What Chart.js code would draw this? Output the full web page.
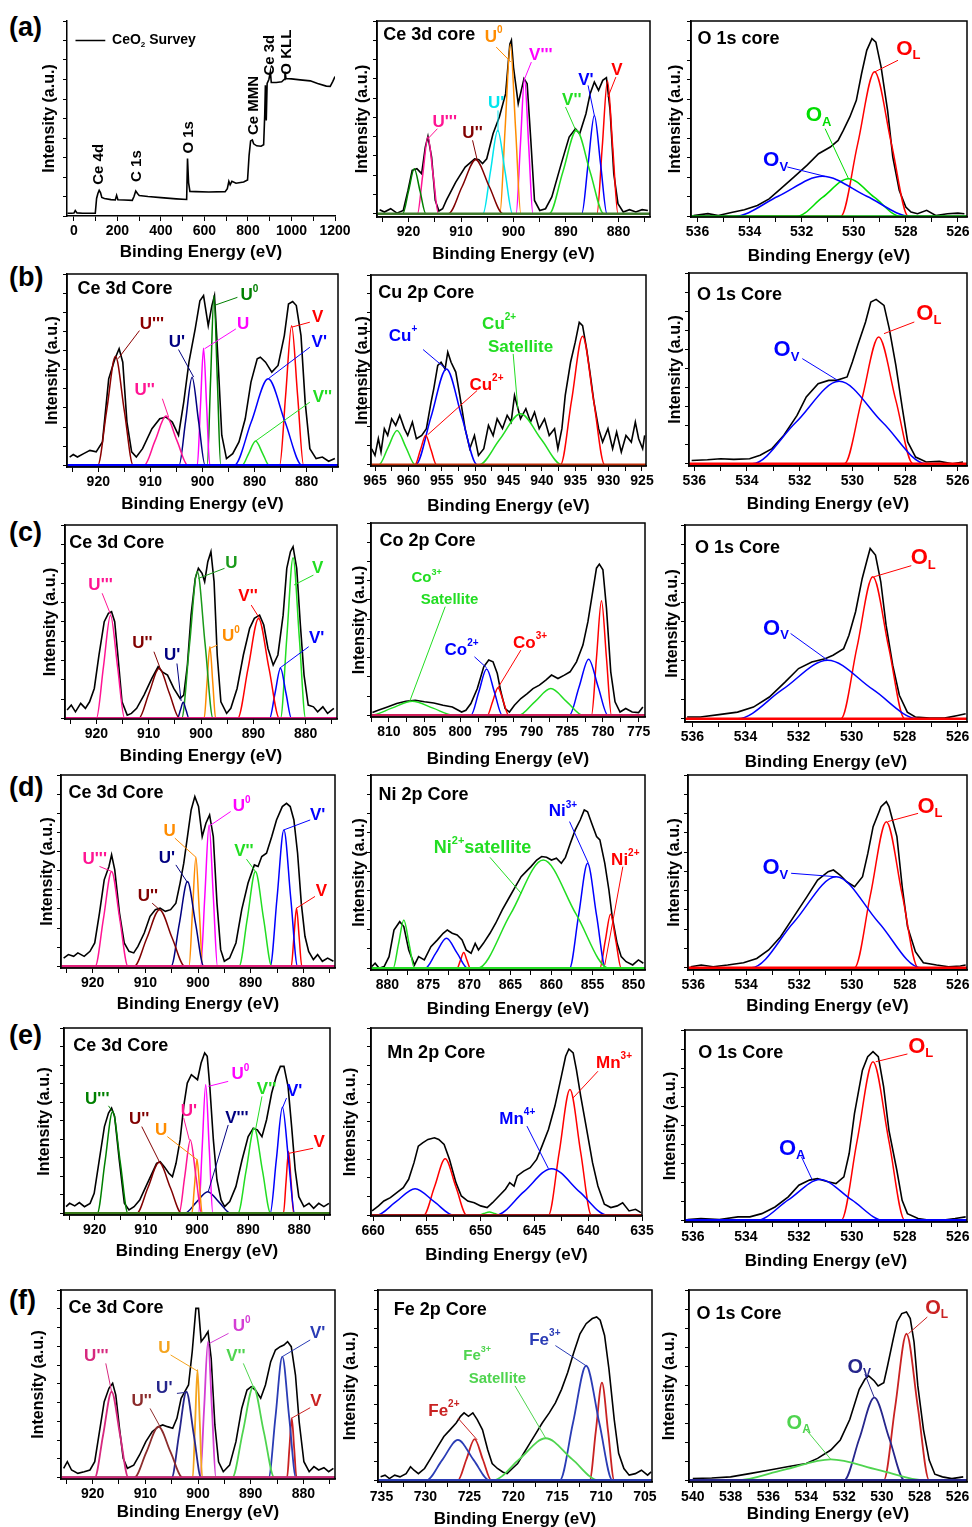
<!DOCTYPE html>
<html>
<head>
<meta charset="utf-8">
<title>XPS spectra of CeO2 and M-doped CeO2</title>
<script src="https://cdn.jsdelivr.net/npm/chart.js@4.4.1/dist/chart.umd.min.js"></script>
<style>
  html, body { margin: 0; padding: 0; background: #fff; }
  #fig { position: relative; width: 972px; height: 1527px; overflow: hidden; background: #fff; }
  #fig canvas { position: absolute; }
  .tag { position: absolute; left: 9px; font: bold 27px 'Liberation Sans', Arial, sans-serif; color: #000; line-height: 30px; }
</style>
</head>
<body>
<div id="fig">
  <div class="tag" style="top:12px">(a)</div>
  <div class="tag" style="top:262px">(b)</div>
  <div class="tag" style="top:517px">(c)</div>
  <div class="tag" style="top:772px">(d)</div>
  <div class="tag" style="top:1020px">(e)</div>
  <div class="tag" style="top:1285px">(f)</div>
</div>
<script>
// ---- data: [binding energy (eV), intensity (% of panel height)] ----

// (a) CeO2
const survey = [[-30,1.4],[-12,1.4],[0,1.5],[6,2.8],[14,1.6],[40,1.4],[98,1.4],[104,9],[110,11.5],[116,13.2],[122,12],[128,9.5],[140,9],[170,8.4],[190,8.2],[196,10.6],[202,8.3],[230,8.2],[268,8],[276,10],[284,12.8],[292,11.5],[300,10.5],[340,10],[400,9.4],[470,8.8],[518,8.5],[522,29.5],[527,17],[533,12.6],[560,12.5],[620,12.3],[695,12.5],[705,14],[712,17.8],[718,16],[726,17.8],[745,16.8],[780,17.4],[798,18.5],[805,31],[812,38.5],[820,39],[826,37],[840,36],[860,35.8],[872,36.5],[877,52],[880,67],[884,49],[888,68],[896,70],[903,74],[907,68.5],[930,68.5],[955,68.8],[966,70],[970,74],[975,70.5],[1000,70.3],[1040,69.8],[1086,69.3],[1120,68],[1160,66.6],[1178,66.5],[1190,69],[1200,71.5]];

const a2Total = [[925.5,2.1],[924.6,0.9],[923.4,2.6],[922.2,0.3],[921,1.7],[920.1,12.1],[919.3,22.5],[918.4,23.4],[917.5,20.8],[916.8,34.6],[916.3,40.1],[915.6,29.4],[914.9,6.9],[914.2,1.4],[913.5,2.6],[912.8,6.9],[911,16.4],[909.2,24.2],[907.4,28.5],[906.6,28],[905.9,26],[905.1,28.5],[903.9,41.5],[902.7,50.2],[901.5,62.3],[900.7,88],[900.4,90],[900,76],[899.1,57.1],[898,70.1],[897.4,67.5],[896.7,38],[896,6.9],[895,1.7],[893.9,2.6],[892.7,8.7],[890.9,26],[889.4,39.8],[888.2,44.1],[887.4,41.5],[886.2,51.9],[885.4,62.3],[884.6,68.3],[883.8,64],[883,69.2],[882.3,70.6],[881.6,53.6],[880.9,20.8],[880.1,5.2],[879.1,0.9],[877.9,2.1],[876.7,0.9],[875.5,2.1],[874.4,1.7]];
const a2Ua = [[873,0],[916.7,0],[917.8,11.7],[918.9,23.4],[920,11.7],[921.1,0],[927,0]];
const a2U3 = [[873,0],[914.3,0],[915.3,19.9],[916.3,39.8],[917.3,19.9],[918.3,0],[927,0]];
const a2U2 = [[873,0],[902,0],[904.6,14],[907.2,28],[909.8,14],[912.4,0],[927,0]];
const a2U1 = [[873,0],[900.2,0],[901.6,21.7],[903,43.3],[904.4,21.7],[905.8,0],[927,0]];
const a2U0 = [[873,0],[898.6,0],[899.6,44],[900.6,88],[901.6,44],[902.6,0],[927,0]];
const a2V3 = [[873,0],[896.3,0],[897.1,35],[897.9,70],[898.7,35],[899.5,0],[927,0]];
const a2V2 = [[873,0],[882.8,0],[885.4,21.7],[888,43.3],[890.6,21.7],[893.2,0],[927,0]];
const a2V1 = [[873,0],[882.2,0],[883.4,25.5],[884.6,51],[885.8,25.5],[887,0],[927,0]];
const a2V = [[873,0],[880.1,0],[881.1,34.5],[882.1,69],[883.1,34.5],[884.1,0],[927,0]];

const a3Total = [[536.15,0.5],[535.6,1.4],[535.2,0.5],[534.7,2],[534.2,3.4],[533.7,5.6],[533.25,9],[532.8,14.2],[532.3,20.1],[531.8,26.1],[531.35,32.1],[530.9,35.5],[530.6,38.9],[530.4,44],[530.15,50.9],[529.9,59.4],[529.7,73],[529.5,85],[529.3,91],[529.15,89.2],[528.95,76.5],[528.7,54.3],[528.5,30.4],[528.25,13.3],[528,4.8],[527.8,2.2],[527.55,1.4],[527.2,3.1],[526.85,0.5],[526.4,1.4],[526,1.7],[525.75,1.4]];
const a3OL = [[524,0],[527.9,0],[528.55,37],[529.2,74],[529.85,37],[530.5,0],[541,0]];
const a3OA = [[524,0],[528.2,0],[529.2,9.7],[530.2,19.3],[531.2,9.7],[532.2,0],[541,0]];
const a3OV = [[524,0],[527.8,0],[529.5,10.3],[531.2,20.5],[532.9,10.3],[534.6,0],[541,0]];

// (b) Cu doped
const b1Total = [[925.5,4.3],[924.8,5.6],[924,4.3],[922.8,6.1],[921.6,7.8],[920.4,7],[919.2,12.2],[918,45.2],[916.8,55.7],[916,60.9],[915.3,53.9],[914.5,22.6],[913.6,7],[912.7,4.3],[911.5,8.7],[909.7,19.1],[908.2,24.3],[907,25.2],[905.8,22.6],[904.6,15.7],[903.6,33],[902.6,53.9],[901.4,71.3],[900.5,86],[899.8,88.7],[898.9,73],[898.2,83.5],[897.7,88.7],[897,53.9],[896.3,15.7],[895.4,3.5],[894.2,6.1],[893,12.2],[891.8,24.3],[890.7,43.5],[889.5,55.7],[888.9,56.5],[887.9,53.9],[886.7,48.7],[885.5,52.2],[884.3,67.8],[883.5,84.3],[882.7,85.6],[882,83.5],[881.1,67.8],[880.3,33],[879.4,8.7],[878.2,3.5],[877,4.3],[875.8,2.1],[874.6,3.5]];
const b1U3 = [[873,0],[913.3,0],[915,28.5],[916.7,57],[918.4,28.5],[920.1,0],[927,0]];
const b1U2 = [[873,0],[902.8,0],[904.9,12.9],[907,25.7],[909.1,12.9],[911.2,0],[927,0]];
const b1U1 = [[873,0],[899.5,0],[900.75,23],[902,46],[903.25,23],[904.5,0],[927,0]];
const b1U = [[873,0],[898.6,0],[899.2,30.6],[899.8,61.2],[900.4,30.6],[901,0],[927,0]];
const b1U0 = [[873,0],[896.5,0],[897.15,44.4],[897.8,88.7],[898.45,44.4],[899.1,0],[927,0]];
const b1V2 = [[873,0],[887.2,0],[888.5,6.4],[889.8,12.7],[891.1,6.4],[892.4,0],[927,0]];
const b1V1 = [[873,0],[880.9,0],[884.15,22.6],[887.4,45.2],[890.65,22.6],[893.9,0],[927,0]];
const b1V = [[873,0],[880.6,0],[881.75,36.5],[882.9,73],[884.05,36.5],[885.2,0],[927,0]];

const b2Total = [[965.5,8.4],[965,4.9],[964.5,13.7],[964.1,6.7],[963.6,19],[963.1,15.4],[962.5,24.2],[961.9,20.7],[961.3,26],[960.6,19],[960.1,15.4],[959.4,22.5],[958.8,13.7],[958,15.4],[957.3,19],[956.6,33],[956.2,40],[955.6,52.3],[955.1,54],[954.5,50.5],[954.1,59.3],[953.6,54],[952.9,48.8],[952.3,36.5],[951.5,19],[950.8,8.4],[950.1,15.4],[949.5,4.9],[948.7,8.4],[948,20.7],[947.3,15.4],[946.7,24.2],[945.9,19],[945.2,26],[944.6,22.5],[944.1,36.5],[943.7,31.2],[943.2,24.2],[942.4,29.5],[941.7,22.5],[941.1,27.7],[940.4,19],[939.6,24.2],[938.9,15.4],[938.1,19],[937.6,8.4],[937,19],[936.5,36.5],[935.7,54],[935,64.6],[934.4,75],[933.9,73.3],[933.3,61],[932.8,48.8],[932.2,33],[931.5,19],[930.9,11.9],[930.1,19],[929.4,8.4],[928.8,17.2],[928.1,6.7],[927.4,15.4],[926.6,11.9],[926,22.5],[925.5,13.7],[924.9,8.4],[924.6,15.4]];
const b2G1 = [[923,0],[959,0],[960.35,9],[961.7,18],[963.05,9],[964.4,0],[967,0]];
const b2R1 = [[923,0],[955.8,0],[956.6,7.7],[957.4,15.4],[958.2,7.7],[959,0],[967,0]];
const b2B = [[923,0],[949.7,0],[952,25.3],[954.3,50.5],[956.6,25.3],[958.9,0],[967,0]];
const b2G2 = [[923,0],[937,0],[940.1,13.4],[943.2,26.8],[946.3,13.4],[949.4,0],[967,0]];
const b2R2 = [[923,0],[930.6,0],[932.25,33.9],[933.9,67.7],[935.55,33.9],[937.2,0],[967,0]];

const b3Total = [[536.1,1.7],[535.5,2.1],[535,2.6],[534.5,2.3],[533.9,2.6],[533.5,4.4],[533.05,7.9],[532.6,14.9],[532.1,25.3],[531.75,35],[531.3,42],[530.9,43.7],[530.6,43.7],[530.2,45.5],[530,53.3],[529.8,62],[529.5,74.3],[529.3,84.8],[529.1,86.2],[528.8,83],[528.6,70.8],[528.35,51.6],[528.1,28.8],[527.9,11.4],[527.6,3.5],[527.2,0.9],[526.7,1.2],[526.2,0],[525.8,0.9]];
const b3OV = [[524,0],[527.2,0],[528.85,21.6],[530.5,43.2],[532.15,21.6],[533.8,0],[541,0]];
const b3OL = [[524,0],[527.7,0],[528.35,33.2],[529,66.4],[529.65,33.2],[530.3,0],[541,0]];

// (c) Co doped
const c1Total = [[925.6,4.3],[924.8,6.9],[924,3.4],[923,7.8],[922.1,5.2],[921.3,8.6],[920.4,15.5],[919.5,32.8],[918.5,50],[917.7,54.3],[917.1,55.2],[916.5,50],[915.9,32.8],[915.1,8.6],[914.1,1.7],[913.3,2.6],[912.3,5.2],[910.9,12.1],[909.4,20.7],[908.2,26.7],[907.4,24.1],[906.4,22.4],[905.2,15.5],[904,10.3],[903.3,12.1],[902.6,27.6],[901.9,53.4],[901.1,72.4],[900.5,77.6],[899.8,75],[899.3,70.7],[898.7,81],[898.1,86.2],[897.5,70.7],[896.9,32.8],[896.2,8.6],[895.1,2.6],[894.3,5.2],[893.1,15.5],[891.9,32.8],[890.7,46.6],[889.8,51.7],[888.8,53.4],[888,48.3],[887.2,36.2],[886.2,27.6],[885.3,32.8],[884.3,53.4],[883.6,77.6],[882.9,86.2],[882.4,88.8],[881.7,77.6],[881,48.3],[880.3,22.4],[879.5,6.9],[878.5,6],[877.7,3.4],[876.7,6],[875.8,2.6],[874.6,5.2]];
const c1U3 = [[873,0],[914.6,0],[915.95,26.7],[917.3,53.4],[918.65,26.7],[920,0],[927,0]];
const c1U2 = [[873,0],[904.1,0],[906.05,13],[908,25.9],[909.95,13],[911.9,0],[927,0]];
const c1U1 = [[873,0],[902.3,0],[902.85,4.2],[903.4,8.3],[903.95,4.2],[904.5,0],[927,0]];
const c1U = [[873,0],[897.7,0],[899.2,38],[900.7,75.9],[902.2,38],[903.7,0],[927,0]];
const c1U0 = [[873,0],[897.2,0],[897.75,18.5],[898.3,37],[898.85,18.5],[899.4,0],[927,0]];
const c1V2 = [[873,0],[885,0],[887,25.9],[889,51.7],[891,25.9],[893,0],[927,0]];
const c1V1 = [[873,0],[882.7,0],[883.75,13],[884.8,25.9],[885.85,13],[886.9,0],[927,0]];
const c1V = [[873,0],[880,0],[881.2,41.6],[882.4,83.1],[883.6,41.6],[884.8,0],[927,0]];

const c2Total = [[812.3,1.4],[811.5,2.6],[810.2,4.3],[808.9,6.1],[807.6,7.3],[806.3,7.8],[805,7],[803.7,6.4],[802.4,5.2],[801.1,4.3],[799.8,1.7],[799.2,2.6],[798.5,6.1],[797.6,13.9],[796.7,25.2],[796,28.7],[795.4,27.8],[794.8,21.7],[794.3,12.2],[793.7,3.5],[793.1,1.7],[792.4,5.2],[791.5,8.7],[790.6,11.3],[789.8,13.9],[788.9,15.7],[788,18.3],[787.2,20.9],[786.3,19.1],[785.4,20.9],[784.6,22.6],[783.7,27.8],[782.8,36.5],[782.1,48.7],[781.5,62.6],[780.9,76.5],[780.5,78.6],[780,75.7],[779.5,55.7],[778.9,22.6],[778.3,7],[777.6,1.7],[776.8,3.5],[775.9,1.7],[775,1.4],[774.4,4.3]];
const c2G1 = [[772,0],[800.9,0],[803.8,3.7],[806.7,7.3],[809.6,3.7],[812.5,0],[814,0]];
const c2B1 = [[772,0],[794.1,0],[795.2,12],[796.3,24],[797.4,12],[798.5,0],[814,0]];
const c2R1 = [[772,0],[793.2,0],[793.95,7.2],[794.7,14.3],[795.45,7.2],[796.2,0],[814,0]];
const c2G2 = [[772,0],[782.8,0],[785.05,7],[787.3,13.9],[789.55,7],[791.8,0],[814,0]];
const c2B2 = [[772,0],[779.3,0],[780.65,14.6],[782,29.2],[783.35,14.6],[784.7,0],[814,0]];
const c2R2 = [[772,0],[778.8,0],[779.5,29.8],[780.2,59.5],[780.9,29.8],[781.6,0],[814,0]];

const c3Total = [[536.2,0.9],[535.7,0.9],[535,2.1],[534.3,3.4],[533.7,6],[533.1,11.2],[532.5,19],[532,25.9],[531.5,29.3],[531,31],[530.7,32.8],[530.3,36.2],[530.1,43.1],[529.85,55.2],[529.6,72.4],[529.4,82.8],[529.3,87.9],[529.1,84.5],[528.9,70.7],[528.7,48.3],[528.45,27.6],[528.2,12.1],[527.9,3.4],[527.6,0.9],[527.05,0.3],[526.5,0.3],[526,1.7],[525.7,2.6]];
const c3OV = [[524,0],[527.5,0],[529.2,15.1],[530.9,30.2],[532.6,15.1],[534.3,0],[541,0]];
const c3OL = [[524,0],[528,0],[528.6,36.7],[529.2,73.3],[529.8,36.7],[530.4,0],[541,0]];

// (d) Ni doped
const d1Total = [[925.5,4.3],[924.6,6.1],[923.6,5.2],[922.8,7],[921.6,5.2],[920.5,7.8],[919.6,12.2],[918.7,27.8],[917.8,45.2],[916.9,52.2],[916.4,58.3],[915.8,50.4],[914.9,27.8],[914,12.2],[913.1,7.8],[912.2,7],[911.4,10.4],[910.2,17.4],[909.1,26.1],[908.1,29.6],[907.2,30.4],[906.2,28.7],[905.2,29.6],[904.2,33],[903.4,43.5],[902.7,53.9],[902,67.8],[901.3,81.7],[900.6,88.7],[899.9,83.5],[899.2,67.8],[898.5,74.8],[897.8,79.1],[897.1,67.8],[896.4,33],[895.7,8.7],[895,2.6],[894,4.3],[892.8,12.2],[891.7,29.6],[890.5,43.5],[889.3,53],[888.6,52.2],[887.9,57.4],[887,59.1],[886,67.8],[885.1,76.5],[884,83.5],[883.2,85.2],[882.5,83.5],[881.8,76.5],[881.1,59.1],[880.4,33],[879.7,15.7],[879,7.8],[878.1,3.5],[877.3,6.1],[876.4,2.6],[875.4,4.3],[874.3,2.6]];
const d1U3 = [[873,0],[913.3,0],[914.85,24.8],[916.4,49.6],[917.95,24.8],[919.5,0],[927,0]];
const d1U2 = [[873,0],[902.5,0],[904.9,14.8],[907.3,29.6],[909.7,14.8],[912.1,0],[927,0]];
const d1U1 = [[873,0],[898.9,0],[900.45,22.2],[902,44.3],[903.55,22.2],[905.1,0],[927,0]];
const d1U = [[873,0],[899.1,0],[899.75,28.5],[900.4,57],[901.05,28.5],[901.7,0],[927,0]];
const d1U0 = [[873,0],[896.3,0],[897.1,37],[897.9,73.9],[898.7,37],[899.5,0],[927,0]];
const d1V2 = [[873,0],[886,0],[887.55,24.8],[889.1,49.6],[890.65,24.8],[892.2,0],[927,0]];
const d1V1 = [[873,0],[881.1,0],[882.4,35.7],[883.7,71.3],[885,35.7],[886.3,0],[927,0]];
const d1V = [[873,0],[880.3,0],[880.8,15.2],[881.3,30.4],[881.8,15.2],[882.3,0],[927,0]];

const d2Total = [[881.9,0.9],[881.5,2.6],[881,0],[880.4,0.9],[879.8,6],[879.2,19.8],[878.5,24.1],[878,21.6],[877.4,9.5],[876.7,1.7],[876.2,6],[875.5,4.3],[874.7,11.2],[873.9,14.7],[873.2,18.1],[872.7,19.8],[872.1,18.1],[871.5,17.2],[870.9,14.7],[870.4,9.5],[869.8,7.8],[869.3,12.9],[868.9,9.5],[868.3,12.9],[867.5,18.1],[866.8,23.3],[866,30.2],[865.1,37],[864.4,42.2],[863.7,47.4],[863.1,50],[862.5,52.6],[861.8,56],[861.2,57.8],[860.6,57.4],[860,56],[859.4,56.9],[858.8,54.3],[858.3,57.4],[857.7,64.7],[857.1,71.6],[856.5,76.7],[856,81.9],[855.6,81],[855.1,75],[854.5,68.1],[854.1,66.4],[853.5,54.3],[853,40.5],[852.6,26.7],[852,12.9],[851.5,6],[850.9,3.4],[850.1,1.7],[849.4,4.3],[848.8,2.6]];
const d2G1 = [[847,0],[876.7,0],[877.35,12.5],[878,25],[878.65,12.5],[879.3,0],[883,0]];
const d2B1 = [[847,0],[870.2,0],[871.5,7.8],[872.8,15.5],[874.1,7.8],[875.4,0],[883,0]];
const d2R1 = [[847,0],[869.9,0],[870.3,4.1],[870.7,8.1],[871.1,4.1],[871.5,0],[883,0]];
const d2G2 = [[847,0],[853,0],[857,28],[861,56],[865,28],[869,0],[883,0]];
const d2B2 = [[847,0],[853.4,0],[854.5,27.2],[855.6,54.3],[856.7,27.2],[857.8,0],[883,0]];
const d2R2 = [[847,0],[851.5,0],[852.15,14],[852.8,28],[853.45,14],[854.1,0],[883,0]];

const d3Total = [[536.1,0.5],[535.7,1.4],[535.25,0.5],[534.7,1.4],[534.1,2.6],[533.6,4.8],[533.15,9.2],[532.7,16.1],[532.2,26.5],[531.7,36.9],[531.3,45.5],[530.9,49.8],[530.7,50.7],[530.45,48.1],[530.2,44.6],[529.9,42],[529.6,47.2],[529.4,59.3],[529.2,73.2],[528.9,83.6],[528.7,86.2],[528.6,83.6],[528.3,68],[528.1,42],[527.9,21.3],[527.6,8.3],[527.3,2.6],[526.8,1.4],[526.35,0.5],[525.9,0.9],[525.7,1.4]];
const d3OV = [[524,0],[527.4,0],[529,23.6],[530.6,47.2],[532.2,23.6],[533.8,0],[541,0]];
const d3OL = [[524,0],[527.5,0],[528.1,37.9],[528.7,75.8],[529.3,37.9],[529.9,0],[541,0]];

// (e) Mn doped
const e1Total = [[925.6,3.6],[924.9,5.4],[923.9,4],[923,5.8],[922,3.6],[920.9,5.4],[920.1,10.8],[919.1,28.8],[918.1,46.8],[917.3,54.1],[916.7,56.8],[916.1,52.3],[915.2,28.8],[914.2,5.4],[913.3,1.8],[912.3,3.6],[911.2,7.2],[910,14.4],[908.8,21.6],[907.9,27],[907.2,27.9],[906.4,25.2],[905.5,21.6],[904.8,19.8],[904.1,27],[903.3,39.6],[902.6,57.7],[901.9,70.3],[901.1,74.8],[900.7,73.9],[899.9,72.1],[899.2,81.1],[898.5,86.5],[898,84.7],[897.5,68.5],[896.8,39.6],[896.1,18],[895.3,7.2],[894.6,3.6],[893.6,6.3],[892.4,14.4],[891.2,28.8],[890,41.4],[889,45.9],[888.2,45],[887.3,41.4],[886.4,50.5],[885.4,64.9],[884.5,73.9],[883.7,79.3],[883,79.3],[882.2,68.5],[881.5,46.8],[880.8,23.4],[880.1,9],[879.1,3.6],[878.1,5.4],[877.2,2.7],[876.2,5.4],[875.2,3.6],[874.2,5.4]];
const e1U3 = [[873,0],[913.5,0],[915,27.5],[916.5,55],[918,27.5],[919.5,0],[927,0]];
const e1U2 = [[873,0],[903,0],[905.2,13.8],[907.4,27.5],[909.6,13.8],[911.8,0],[927,0]];
const e1U1 = [[873,0],[899.1,0],[900.2,19.8],[901.3,39.6],[902.4,19.8],[903.5,0],[927,0]];
const e1U = [[873,0],[899,0],[899.5,14.5],[900,29],[900.5,14.5],[901,0],[927,0]];
const e1U0 = [[873,0],[896.9,0],[897.6,34.7],[898.3,69.4],[899,34.7],[899.7,0],[927,0]];
const e1V3 = [[873,0],[893.4,0],[895.65,5.9],[897.9,11.7],[900.15,5.9],[902.4,0],[927,0]];
const e1V2 = [[873,0],[885.6,0],[887.2,23],[888.8,45.9],[890.4,23],[892,0],[927,0]];
const e1V1 = [[873,0],[880.9,0],[882.1,28.7],[883.3,57.3],[884.5,28.7],[885.7,0],[927,0]];
const e1V = [[873,0],[881.1,0],[881.6,16.7],[882.1,33.3],[882.6,16.7],[883.1,0],[927,0]];

const e2Total = [[660.1,2.3],[659.5,5],[659,7.6],[658.4,9.4],[657.8,12.1],[657.2,14.7],[656.7,19.2],[656.2,28.1],[655.8,36.9],[655.4,38.7],[654.9,40.5],[654.3,41.4],[653.9,40.5],[653.4,37.8],[652.9,29.8],[652.3,17.4],[651.8,10.3],[651.2,7.6],[650.6,6.7],[650,5],[649.4,4.1],[648.9,6.7],[648.3,10.3],[647.7,13.9],[647.3,17.4],[646.9,15.6],[646.6,21],[646,23.6],[645.4,25.4],[644.8,29.8],[644.3,36.9],[643.7,45.8],[643.1,58.3],[642.5,74.2],[642.1,84.9],[641.8,88.8],[641.4,86.7],[641.1,77.8],[640.7,63.6],[640.2,47.6],[639.6,28.1],[639.1,15.6],[638.5,5.9],[637.9,4.1],[637.3,5],[636.8,6.7],[636.2,2.3],[635.6,3.2],[635.1,1.4]];
const e2B1 = [[634,0],[652.5,0],[654.3,7.1],[656.1,14.2],[657.9,7.1],[659.7,0],[661,0]];
const e2R1 = [[634,0],[651.3,0],[652.3,15.1],[653.3,30.2],[654.3,15.1],[655.3,0],[661,0]];
const e2G = [[634,0],[648.2,0],[648.7,0.9],[649.2,1.8],[649.7,0.9],[650.2,0],[661,0]];
const e2B2 = [[634,0],[638.2,0],[640.8,12.5],[643.4,24.9],[646,12.5],[648.6,0],[661,0]];
const e2R2 = [[634,0],[639.7,0],[640.7,33.6],[641.7,67.1],[642.7,33.6],[643.7,0],[661,0]];

const e3Total = [[536.2,0.4],[535.7,0.9],[535,0.4],[534.3,1.8],[533.85,1.8],[533.4,3.5],[532.9,7],[532.4,12.3],[532,18.4],[531.6,21.1],[531.3,21.9],[530.9,20.2],[530.6,19.3],[530.3,22.8],[530.1,35.1],[529.9,56.1],[529.6,78.9],[529.4,86],[529.2,88.6],[529,86],[528.8,70.2],[528.6,47.4],[528.3,26.3],[528.1,10.5],[527.9,3.5],[527.5,0.9],[527.05,0],[526.6,0],[526.1,0.9],[525.7,1.8]];
const e3OA = [[524,0],[528.8,0],[530,10.7],[531.2,21.4],[532.4,10.7],[533.6,0],[541,0]];
const e3OL = [[524,0],[528,0],[528.6,41.7],[529.2,83.3],[529.8,41.7],[530.4,0],[541,0]];

// (f) Fe doped
const f1Total = [[925.5,5],[924.8,8.5],[924,4.1],[922.8,2.3],[921.6,3.2],[920.5,4.1],[919.6,8.5],[918.7,24.5],[917.8,40.5],[916.9,47.6],[916.2,50.3],[915.6,44],[914.9,26.3],[914.2,10.3],[913.4,5],[912.2,6.7],[911.1,12.1],[909.9,19.2],[908.7,24.5],[907.5,27.2],[906.7,28.1],[905.8,27.2],[904.8,26.3],[904,31.6],[903.2,42.3],[902.5,45.8],[901.8,49.4],[901.1,67.1],[900.4,90.2],[899.9,90.2],[899.4,72.5],[898.7,75.1],[898.1,77.8],[897.5,63.6],[896.8,28.1],[896.1,8.5],[895.2,3.2],[894,6.7],[892.8,19.2],[891.7,36.9],[890.7,46.7],[889.9,48.5],[889.1,46.7],[888.1,42.3],[887.2,49.4],[886.2,61.8],[885.3,68],[884.4,69.8],[883.7,70.7],[883,72.5],[882.3,69.8],[881.5,54.7],[880.8,29.8],[879.9,8.5],[878.9,3.2],[878,5.9],[877.1,4.1],[876.1,5.3],[875.2,3.2],[874.3,5]];
const f1U3 = [[873,0],[913.2,0],[914.8,22.9],[916.4,45.8],[918,22.9],[919.6,0],[927,0]];
const f1U2 = [[873,0],[902.9,0],[905.2,13.6],[907.5,27.2],[909.8,13.6],[912.1,0],[927,0]];
const f1U1 = [[873,0],[899.4,0],[900.8,22.9],[902.2,45.8],[903.6,22.9],[905,0],[927,0]];
const f1U = [[873,0],[899.2,0],[899.65,28.7],[900.1,57.4],[900.55,28.7],[901,0],[927,0]];
const f1U0 = [[873,0],[896.6,0],[897.35,36.3],[898.1,72.5],[898.85,36.3],[899.6,0],[927,0]];
const f1V2 = [[873,0],[885.5,0],[887.5,24.3],[889.5,48.5],[891.5,24.3],[893.5,0],[927,0]];
const f1V1 = [[873,0],[881.4,0],[882.7,32.3],[884,64.5],[885.3,32.3],[886.6,0],[927,0]];
const f1V = [[873,0],[881.3,0],[881.75,15.8],[882.2,31.6],[882.65,15.8],[883.1,0],[927,0]];

const f2Total = [[735.1,1.8],[734.6,2.7],[734.1,0.9],[733.5,2.7],[732.9,1.8],[732.2,3.5],[731.7,7.1],[731.3,5.3],[730.8,3.5],[730.1,6.2],[729.4,11.5],[728.6,17.7],[727.9,23],[727.2,26.5],[726.5,30.1],[726,33.6],[725.6,35.4],[725.1,33.6],[724.6,35.4],[724.1,31.9],[723.5,26.5],[722.9,15.9],[722.4,8.8],[721.8,6.2],[721.2,4.4],[720.7,3.5],[720.1,6.2],[719.5,8.8],[718.8,14.2],[718.1,19.5],[717.4,24.8],[716.7,30.1],[715.9,35.4],[715.2,40.7],[714.5,47.8],[713.8,56.6],[713.1,67.3],[712.4,77],[711.7,82.3],[711,85],[710.5,85.8],[710.1,84.1],[709.6,76.1],[709.1,58.4],[708.5,31.9],[708,14.2],[707.4,6.2],[706.8,2.7],[706.1,3.5],[705.4,5.3],[704.7,2.7],[704.3,4.4]];
const f2B1 = [[703,0],[722.7,0],[724.5,10.6],[726.3,21.2],[728.1,10.6],[729.9,0],[737,0]];
const f2R1 = [[703,0],[722.5,0],[723.45,10.8],[724.4,21.6],[725.35,10.8],[726.3,0],[737,0]];
const f2G = [[703,0],[710.3,0],[713.3,11.1],[716.3,22.1],[719.3,11.1],[722.3,0],[737,0]];
const f2B2 = [[703,0],[708.7,0],[710.2,30.1],[711.7,60.2],[713.2,30.1],[714.7,0],[737,0]];
const f2R2 = [[703,0],[708.5,0],[709.2,25.7],[709.9,51.3],[710.6,25.7],[711.3,0],[737,0]];

const f3Total = [[540,0.9],[539,1.2],[538,1.8],[537,3.5],[536,5.3],[535,7.1],[534,8.8],[533.4,11.5],[532.7,15.9],[532.2,21.2],[531.7,31.9],[531.2,47.8],[530.9,53.1],[530.7,54.9],[530.4,52.2],[530.2,49.6],[529.9,51.3],[529.7,60.2],[529.4,74.3],[529.2,83.2],[528.95,87.6],[528.7,88.5],[528.5,85],[528.3,72.6],[528.1,49.6],[527.8,26.5],[527.5,10.6],[527.2,3.2],[526.8,1.8],[526.3,0.9],[525.7,1.8]];
const f3OA = [[524,0],[527.7,0],[530.2,5.5],[532.7,11],[535.2,5.5],[537.7,0],[541,0]];
const f3OV = [[524,0],[528.8,0],[529.6,21.7],[530.4,43.4],[531.2,21.7],[532,0],[541,0]];
const f3OL = [[524,0],[527.5,0],[528.1,38.5],[528.7,77],[529.3,38.5],[529.9,0],[541,0]];

// zero lines of the fitted components
const ceZero = [[870,0],[930,0]];
const oZero = [[524,0],[542,0]];
const cuZero = [[920,0],[970,0]];
const coZero = [[770,0],[815,0]];
const niZero = [[845,0],[885,0]];
const mnZero = [[630,0],[665,0]];
const feZero = [[700,0],[740,0]];

// ---- styling ----
const FONT = "'Liberation Sans', Arial, Helvetica, sans-serif";
const PINK = '#ff1493', MAROON = '#800000', NAVY = '#000080', ORANGE = '#ff8c00',
      MAGENTA = '#ff00ff', LIME = '#22dd22', DKGREEN = '#008000', BLUE = '#0000ff',
      RED = '#ff0000', CYAN = '#00e5ee';
const fPink = '#d6287e', fMaroon = '#8b2c2c', fNavy = '#26268c', fOrange = '#f4a41e',
      fMag = '#d43ed4', fGreen = '#4fd44f', fBlue = '#2a3cb5', fRed = '#c92222';

Chart.defaults.font.family = FONT;
Chart.defaults.color = '#000';

const CE = [873.999, 926.001], CE_STEP = [5, 10];
const O_STEP = [1, 2], M_STEP = [2.5, 5];

const panels = [
  { box: [67, 21, 335, 216], x: [-32, 1200], rev: false, y: 0, step: [100, 200], yOff: 17, xOff: 37, open: true,
    total: survey, parts: [], survey: true },
  { box: [377, 21, 650, 217], x: CE, y: -1.7, step: CE_STEP, yOff: 14.5, xOff: 38, total: a2Total,
    zero: [ceZero, '#3d7a2a'], size: 17, title: ['Ce 3d core', 924.8, 92.6],
    parts: [[a2Ua, DKGREEN], [a2U3, PINK], [a2U2, MAROON], [a2U1, CYAN], [a2U0, ORANGE], [a2V3, MAGENTA], [a2V2, LIME], [a2V1, BLUE], [a2V, RED]],
    labels: [['U^{0}', ORANGE, 903.8, 91.7, 903.3, 86.5, 900.5, 78.7], ["V'''", MAGENTA, 894.8, 82.2, 896.6, 78.7, 898.0, 69.2],
             ["U'", CYAN, 903.3, 57.1, 902.95, 53.6, 902.95, 42.4], ["U'''", PINK, 913.1, 47.6, 914.5, 44.1, 916.3, 38.9],
             ["U''", MAROON, 907.8, 41.5, 907.8, 38.1, 906.9, 27.7], ["V''", LIME, 888.9, 58.8, 890.1, 55.4, 888.0, 42.4],
             ["V'", BLUE, 886.2, 69.2, 885.8, 66.6, 884.6, 51], ['V', RED, 880.3, 74.4, 880.5, 70.9, 882.0, 60.6]] },
  { box: [691, 21, 967, 217], x: [525.65, 536.25], y: -0.3, step: O_STEP, yOff: 15, xOff: 40, total: a3Total,
    zero: [oZero, '#00aa00'], size: 21, title: ['O 1s core', 536.0, 91],
    parts: [[a3OV, BLUE], [a3OA, '#00dd00'], [a3OL, RED]],
    labels: [['O_{L}', RED, 527.9, 85.8, 528.3, 79.9, 529.2, 73.9], ['O_{A}', '#00dd00', 531.35, 51.7, 531.1, 44.9, 530.2, 19.3],
             ['O_{V}', BLUE, 533.0, 28.7, 532.55, 25.3, 531.1, 20.5]] },

  { box: [67, 274, 338, 467], x: CE, y: -0.9, step: CE_STEP, yOff: 14.3, xOff: 38, total: b1Total,
    zero: [ceZero, BLUE], size: 17, title: ['Ce 3d Core', 924.0, 92.2],
    parts: [[b1U3, '#8b0000'], [b1U2, PINK], [b1U1, NAVY], [b1U, MAGENTA], [b1U0, DKGREEN], [b1V2, LIME], [b1V1, BLUE], [b1V, RED]],
    labels: [["U'''", '#8b0000', 909.7, 73.9, 912.1, 70.4, 916.2, 55.7], ['U^{0}', DKGREEN, 891.0, 88.7, 893.3, 87.8, 897.8, 83.5],
             ['U', MAGENTA, 892.2, 73.9, 893.6, 71.3, 899.6, 60.9], ["U'", NAVY, 904.9, 64.3, 904.6, 60.5, 901.7, 46.1],
             ["U''", PINK, 911.1, 39.1, 907.7, 34.8, 906.5, 25.2], ['V', RED, 877.9, 77.4, 879.4, 74.8, 882.9, 72.2],
             ["V'", BLUE, 877.6, 64.3, 879.4, 61.7, 887.4, 45.2], ["V''", LIME, 877.0, 35.7, 879.4, 33, 889.8, 12.7]] },
  { box: [371, 275, 646, 466], x: [924.4, 965.6], y: -0.7, step: M_STEP, yOff: 8.3, xOff: 41, total: b2Total,
    zero: [cuZero, '#c0300a'], size: 17, title: ['Cu 2p Core', 964.5, 90.5],
    parts: [[b2G1, LIME], [b2R1, RED], [b2B, BLUE], [b2G2, LIME], [b2R2, RED]],
    labels: [['Cu^{+}', BLUE, 960.8, 67.7, 957.8, 60.7, 954.5, 50.9], ['Cu^{2+}', RED, 948.3, 41.8, 949.7, 39.1, 957.1, 15.8],
             ['Cu^{2+}', LIME, 946.4, 74.2], ['Satellite', LIME, 943.2, 61.9, 944.3, 58.4, 943.6, 29.5]] },
  { box: [689, 273, 967, 466], x: [525.65, 536.2], y: -1.2, step: O_STEP, yOff: 13, xOff: 39, total: b3Total,
    zero: [oZero, RED], size: 22, title: ['O 1s Core', 535.9, 88.3],
    parts: [[b3OV, BLUE], [b3OL, RED]],
    labels: [['O_{L}', RED, 527.1, 78.7, 527.65, 74.3, 528.8, 68.2], ['O_{V}', BLUE, 532.5, 59.4, 531.9, 55.1, 530.5, 43.2]] },

  { box: [65, 525, 337, 719], x: CE, y: -0.3, step: CE_STEP, yOff: 14, xOff: 38, total: c1Total,
    zero: [ceZero, PINK], size: 17, title: ['Ce 3d Core', 925.2, 90.5],
    parts: [[c1U3, PINK], [c1U2, MAROON], [c1U1, NAVY], [c1U, '#1a9a1a'], [c1U0, ORANGE], [c1V2, RED], [c1V1, BLUE], [c1V, LIME]],
    labels: [["U'''", PINK, 919.2, 69, 918.9, 64.7, 917.3, 53.8], ["U''", MAROON, 911.2, 38.8, 909, 34.5, 907.8, 25.9],
             ["U'", NAVY, 905.5, 32.8, 904.6, 28.4, 903.8, 9], ['U^{0}', ORANGE, 894.3, 42.2, 896.9, 37.9, 898.3, 36.2],
             ['U', '#1a9a1a', 894.2, 80.2, 895.5, 77.6, 900.5, 72.4], ["V''", RED, 891.0, 62.9, 890.4, 58.6, 888.8, 51.7],
             ['V', LIME, 877.7, 77.6, 878.5, 74.1, 882.2, 69], ["V'", BLUE, 877.9, 41.4, 879.4, 37.1, 885.0, 25.9]] },
  { box: [371, 523, 645, 717], x: [774.1, 812.5], y: -0.9, step: M_STEP, yOff: 11.4, xOff: 43, total: c2Total,
    zero: [coZero, '#d0205a'], size: 17, title: ['Co 2p Core', 811.3, 90.4],
    parts: [[c2G1, LIME], [c2B1, BLUE], [c2R1, RED], [c2G2, LIME], [c2B2, BLUE], [c2R2, RED]],
    labels: [['Co^{3+}', LIME, 804.7, 71.3, null, 0, 0, 0, 15], ['Satellite', LIME, 801.5, 60, 802.1, 56.5, 807.1, 7, 15],
             ['Co^{2+}', BLUE, 799.8, 33.9, 798.0, 30.4, 796.3, 24.7], ['Co^{3+}', RED, 790.2, 37.4, 791.5, 33.9, 794.7, 14.3]] },
  { box: [685, 525, 967, 722], x: [525.65, 536.28], y: -1.7, step: O_STEP, yOff: 12.3, xOff: 41, total: c3Total,
    zero: [oZero, RED], size: 22, title: ['O 1s Core', 535.9, 87.9],
    parts: [[c3OV, BLUE], [c3OL, RED]],
    labels: [['O_{L}', RED, 527.3, 82.8, 527.75, 79, 529.15, 73.3], ['O_{V}', BLUE, 532.85, 46.6, 532.3, 44, 530.9, 30.2]] },

  { box: [61, 775, 335, 968], x: CE, y: -0.9, step: CE_STEP, yOff: 13, xOff: 37, total: d1Total,
    zero: [ceZero, '#e0207a'], size: 17, title: ['Ce 3d Core', 924.6, 90.4],
    parts: [[d1U3, PINK], [d1U2, MAROON], [d1U1, NAVY], [d1U, ORANGE], [d1U0, MAGENTA], [d1V2, LIME], [d1V1, BLUE], [d1V, RED]],
    labels: [["U'''", PINK, 919.6, 55.7, 918.7, 52.2, 916.4, 49.6], ["U''", MAROON, 909.5, 36.5, 908.7, 33, 907.3, 29.6],
             ["U'", NAVY, 905.9, 56.5, 904.2, 53, 902, 43.8], ['U', ORANGE, 905.4, 70.4, 904.4, 67, 900.4, 57],
             ['U^{0}', MAGENTA, 891.7, 83.5, 893.8, 80.9, 897.8, 73.4], ["V''", LIME, 891.3, 60, 890.8, 56, 889.1, 49.6],
             ["V'", BLUE, 877.3, 79.1, 878.7, 76.5, 883.7, 71.3], ['V', RED, 876.6, 39.1, 877.8, 36.5, 881.3, 30.4]] },
  { box: [371, 775, 645, 970], x: [848.6, 882], y: -0.9, step: M_STEP, yOff: 11.4, xOff: 40, total: d2Total,
    zero: [niZero, LIME], size: 17, title: ['Ni 2p Core', 881.1, 89.7],
    parts: [[d2G1, LIME], [d2B1, BLUE], [d2R1, RED], [d2G2, LIME], [d2B2, BLUE], [d2R2, RED]],
    labels: [['Ni^{3+}', BLUE, 858.6, 81, 857.8, 75.9, 855.5, 54.3], ['Ni^{2+}satellite', LIME, 868.4, 62.1, 867.5, 57.4, 863.7, 38.8, 18],
             ['Ni^{2+}', RED, 851.0, 56, 851.3, 52.6, 853.5, 1.7]] },
  { box: [688, 775, 967, 970], x: [525.65, 536.2], y: -1.2, step: O_STEP, yOff: 13.5, xOff: 37, total: d3Total,
    zero: [oZero, RED], size: 22,
    parts: [[d3OV, BLUE], [d3OL, RED]],
    labels: [['O_{L}', RED, 527.05, 83.6, 527.5, 80.1, 528.65, 75.8], ['O_{V}', BLUE, 532.9, 51.6, 532.3, 49, 530.6, 47.2]] },

  { box: [64, 1028, 330, 1215], x: CE, y: -0.9, step: CE_STEP, yOff: 19, xOff: 37, total: e1Total,
    zero: [ceZero, '#3a7a1a'], size: 17, title: ['Ce 3d Core', 924.2, 90.1],
    parts: [[e1U3, DKGREEN], [e1U2, MAROON], [e1U1, PINK], [e1U, ORANGE], [e1U0, MAGENTA], [e1V3, NAVY], [e1V2, LIME], [e1V1, BLUE], [e1V, RED]],
    labels: [["U'''", DKGREEN, 919.5, 61.3, 917.3, 58, 916.3, 54.1], ["U''", MAROON, 911.3, 50.5, 910.8, 46.8, 907.2, 27],
             ["U'", PINK, 901.6, 55, 902.6, 51.4, 901.5, 39.6], ['U', ORANGE, 907, 45, 905.8, 41.4, 899.9, 28.8],
             ['U^{0}', MAGENTA, 891.5, 74.8, 893.9, 71.2, 897.8, 68.5], ["V'''", NAVY, 892.2, 51.4, 893.9, 47.7, 897.8, 11.7],
             ["V''", LIME, 886.4, 66.7, 887.3, 63.1, 888.5, 45.9], ["V'", BLUE, 880.9, 65.8, 882.5, 62.2, 883.3, 56.8],
             ['V', RED, 876.1, 38.2, 877.3, 35.1, 882, 32.4]] },
  { box: [371, 1028, 642, 1216], x: [635, 660.2], y: -0.4, step: M_STEP, yOff: 20.7, xOff: 40, total: e2Total,
    zero: [mnZero, '#a01818'], size: 17, title: ['Mn 2p Core', 658.7, 86.7],
    parts: [[e2B1, BLUE], [e2R1, RED], [e2G, LIME], [e2B2, BLUE], [e2R2, RED]],
    labels: [['Mn^{3+}', RED, 637.6, 81.3, 639.1, 76.9, 641.4, 62.7], ['Mn^{4+}', BLUE, 646.6, 51.2, 645.7, 47.6, 643.7, 24.9]] },
  { box: [685, 1030, 967, 1222], x: [525.65, 536.3], y: -0.9, step: O_STEP, yOff: 14, xOff: 40, total: e3Total,
    zero: [oZero, BLUE], size: 22, title: ['O 1s Core', 535.8, 87.7],
    parts: [[e3OA, BLUE], [e3OL, RED]],
    labels: [['O_{L}', RED, 527.4, 91.2, 527.9, 87.4, 529.1, 83.3], ['O_{A}', BLUE, 532.25, 37.7, 531.9, 33.3, 531.5, 21.4]] },

  { box: [61, 1290, 335, 1479], x: CE, y: -0.7, step: CE_STEP, yOff: 22.6, xOff: 34, total: f1Total, lw: 1.8,
    zero: [ceZero, fPink], size: 17, title: ['Ce 3d Core', 924.6, 90.2],
    parts: [[f1U3, fPink], [f1U2, fMaroon], [f1U1, fNavy], [f1U, fOrange], [f1U0, fMag], [f1V2, fGreen], [f1V1, fBlue], [f1V, fRed]],
    labels: [["U'''", fPink, 919.3, 64.5, 917.5, 60.9, 916.4, 45.8], ["U''", fMaroon, 910.7, 40.5, 909.1, 36.9, 907.2, 27.2],
             ["U'", fNavy, 906.4, 47.6, 904, 44.9, 902.2, 45.5], ['U', fOrange, 906.4, 68.9, 905.2, 65.4, 900.1, 56.8],
             ['U^{0}', fMag, 891.7, 80.5, 894.2, 76.9, 897.8, 71.6], ["V''", fGreen, 892.8, 64.5, 891.4, 60.9, 889.5, 48.5],
             ["V'", fBlue, 877.3, 76.9, 878.7, 73.4, 884, 64.5], ['V', fRed, 877.6, 40.5, 878.7, 37.3, 882.3, 31.6]] },
  { box: [378, 1290, 652, 1482], x: [704.2, 735.4], y: -0.9, step: M_STEP, yOff: 27.7, xOff: 38, total: f2Total, lw: 1.8,
    zero: [feZero, fBlue], size: 17, title: ['Fe 2p Core', 733.6, 89.4],
    parts: [[f2B1, fBlue], [f2R1, fRed], [f2G, fGreen], [f2B2, fBlue], [f2R2, fRed]],
    labels: [['Fe^{3+}', fBlue, 716.4, 73.5, 715.2, 70.8, 711.7, 60.2], ['Fe^{3+}', fGreen, 724.1, 65.5, null, 0, 0, 0, 15],
             ['Satellite', fGreen, 721.8, 53.1, 719.8, 49.6, 716.3, 22.1, 15], ['Fe^{2+}', fRed, 727.9, 36.3, 726.3, 32.7, 724.1, 21.2]] },
  { box: [689, 1290, 967, 1482], x: [525.5, 540.2], y: -0.9, step: O_STEP, yOff: 19.4, xOff: 33, total: f3Total, lw: 1.8,
    zero: [oZero, fNavy], size: 20, title: ['O 1s Core', 539.8, 87.6],
    parts: [[f3OA, fGreen], [f3OV, fNavy], [f3OL, fRed]],
    labels: [['O_{L}', fRed, 527.1, 90.3, 527.6, 85.8, 528.6, 77], ['O_{V}', fNavy, 531.2, 59.3, 530.9, 55.8, 530.4, 43.4],
             ['O_{A}', fGreen, 534.4, 30.1, 534, 26.5, 532.7, 11]] }
];

// survey peak names (rotated) and legend
const surveyNames = [['Ce 4d', 114, 16], ['C 1s', 288, 17.5], ['O 1s', 529, 32], ['Ce MMN', 826, 41.5], ['Ce 3d', 900, 72], ['O KLL', 977, 72.5]];

// text with ^{sup} and _{sub}
function drawRich(ctx, str, x0, y0, size, color, align) {
  const re = /\^\{([^}]*)\}|_\{([^}]*)\}|([^\^_]+)/g;
  const parts = [];
  let m;
  while ((m = re.exec(str))) {
    if (m[1] !== undefined) parts.push({ t: m[1], k: 'sup' });
    else if (m[2] !== undefined) parts.push({ t: m[2], k: 'sub' });
    else parts.push({ t: m[3], k: 'n' });
  }
  const fs = k => (k === 'n' ? size : Math.round(size * 0.6));
  let total = 0;
  parts.forEach(p => {
    ctx.font = 'bold ' + fs(p.k) + 'px ' + FONT;
    p.w = ctx.measureText(p.t).width;
    total += p.w;
  });
  let x = align === 'left' ? x0 : x0 - total / 2;
  ctx.fillStyle = color;
  ctx.textAlign = 'left';
  ctx.textBaseline = 'middle';
  parts.forEach(p => {
    ctx.font = 'bold ' + fs(p.k) + 'px ' + FONT;
    const dy = p.k === 'sup' ? -size * 0.4 : p.k === 'sub' ? size * 0.32 : 0;
    ctx.fillText(p.t, x, y0 + dy);
    x += p.w;
  });
}

function annot(p) {
  return {
    id: 'annot',
    afterDatasetsDraw(chart) {
      const ctx = chart.ctx, a = chart.chartArea;
      const px = v => chart.scales.x.getPixelForValue(v);
      const py = v => chart.scales.y.getPixelForValue(v);
      ctx.save();
      if (!p.open) {
        ctx.strokeStyle = '#000';
        ctx.lineWidth = 1.5;
        ctx.strokeRect(a.left, a.top, a.right - a.left, a.bottom - a.top);
      }
      if (p.title) drawRich(ctx, p.title[0], px(p.title[1]), py(p.title[2]), 18, '#000', 'left');
      (p.labels || []).forEach(l => {
        const [t, c, x, y, x1, y1, x2, y2, s] = l;
        if (x1 !== undefined && x1 !== null) {
          ctx.strokeStyle = c;
          ctx.lineWidth = 1;
          ctx.beginPath();
          ctx.moveTo(px(x1), py(y1));
          ctx.lineTo(px(x2), py(y2));
          ctx.stroke();
        }
        drawRich(ctx, t, px(x), py(y), s || p.size, c, 'center');
      });
      if (p.survey) {
        surveyNames.forEach(([t, x, y]) => {
          ctx.save();
          ctx.translate(px(x), py(y));
          ctx.rotate(-Math.PI / 2);
          drawRich(ctx, t, 0, 0, 15, '#000', 'left');
          ctx.restore();
        });
        ctx.strokeStyle = '#000';
        ctx.lineWidth = 1.5;
        ctx.beginPath();
        ctx.moveTo(px(7), py(90));
        ctx.lineTo(px(144), py(90));
        ctx.stroke();
        drawRich(ctx, 'CeO_{2} Survey', px(175), py(90), 14, '#000', 'left');
      }
      ctx.restore();
    }
  };
}

function line(data, color, width, smooth) {
  return {
    data: data, borderColor: color, borderWidth: width, pointRadius: 0, fill: false,
    tension: 0, cubicInterpolationMode: smooth ? 'monotone' : 'default'
  };
}

function isMajor(v, major) {
  return Math.abs(v / major - Math.round(v / major)) < 1e-6;
}

function makePanel(p) {
  const [L, T, R, B] = p.box;
  const yW = Math.round(p.yOff + 9.6);
  const xH = Math.round(p.xOff + 10.2);
  const padT = 3, padR = 20;
  const w = R - L + yW + padR, h = B - T + padT + xH;
  const cv = document.createElement('canvas');
  cv.width = w;
  cv.height = h;
  cv.style.left = (L - yW) + 'px';
  cv.style.top = (T - padT) + 'px';
  cv.style.width = w + 'px';
  cv.style.height = h + 'px';
  document.getElementById('fig').appendChild(cv);

  const datasets = [];
  if (p.zero) datasets.push(line(p.zero[0], p.zero[1], 2.5, false));
  p.parts.forEach(s => datasets.push(line(s[0], s[1], p.lw || 1.5, true)));
  datasets.push(line(p.total, '#000', 1.6, false));

  const [minor, major] = p.step;
  new Chart(cv, {
    type: 'line',
    data: { datasets },
    options: {
      responsive: false,
      animation: false,
      events: [],
      layout: { padding: { top: padT, right: padR, left: 0, bottom: 0 } },
      plugins: { legend: { display: false }, tooltip: { enabled: false } },
      scales: {
        x: {
          type: 'linear', reverse: p.rev !== false, min: p.x[0], max: p.x[1],
          afterFit(s) { s.height = xH; s.paddingLeft = 0; s.paddingRight = 0; },
          border: { display: true, color: '#000', width: 1.5 },
          grid: { display: true, drawOnChartArea: false, drawTicks: true, tickLength: 5, color: '#000', lineWidth: 1 },
          ticks: {
            stepSize: minor, autoSkip: false, maxRotation: 0, minRotation: 0, includeBounds: false,
            padding: 2, color: '#000', font: { size: 14, weight: 'bold' },
            callback: v => (isMajor(v, major) ? String(Math.round(v)) : '')
          },
          title: { display: true, text: 'Binding Energy (eV)', color: '#000', font: { size: 17, weight: 'bold' }, padding: 0 }
        },
        y: {
          min: p.y, max: 100,
          afterFit(s) { s.width = yW; s.paddingTop = 0; s.paddingBottom = 0; },
          border: { display: true, color: '#000', width: 1.5 },
          grid: { display: true, drawOnChartArea: false, drawTicks: true, tickLength: 4, color: '#000', lineWidth: 1 },
          ticks: { stepSize: 10, includeBounds: false, padding: 0, callback: () => '' },
          title: { display: true, text: 'Intensity (a.u.)', color: '#000', font: { size: 16, weight: 'bold' }, padding: 0 }
        }
      }
    },
    plugins: [annot(p)]
  });
}

panels.forEach(makePanel);
</script>
</body>
</html>
